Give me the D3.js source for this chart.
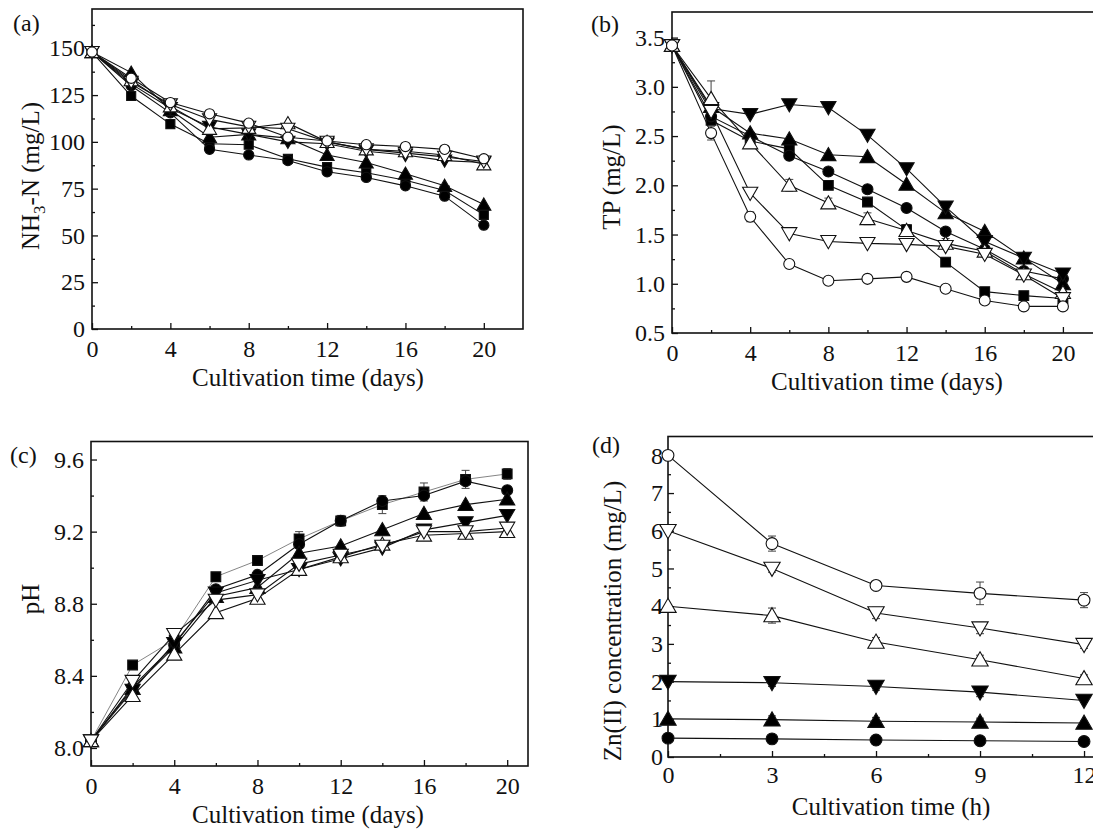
<!DOCTYPE html>
<html lang="en">
<head>
  <meta charset="UTF-8">
  <title>NH3-N, TP, pH and Zn(II)</title>
  <script src="https://cdn.jsdelivr.net/npm/d3@7"></script>
  <style>
    body { margin: 0; background: #fff; }
    text { font-family: "Liberation Serif", "Times New Roman", serif; fill: #111; }
  </style>
</head>
<body>
  <svg width="1093" height="829"></svg>
<script>
  const svg = d3.select("svg");

  // x values
  const days = [0, 2, 4, 6, 8, 10, 12, 14, 16, 18, 20];
  const hours = [0, 3, 6, 9, 12];

  // (a) NH3-N (mg/L)
  const nh3Control = [148, 124.5, 109.5, 99, 98.5, 91, 86.5, 83.5, 79.5, 74, 61];
  const nh3Zn05 = [148, 130, 115.5, 96, 93, 90, 84, 81, 76.5, 71, 55.5];
  const nh3Zn1 = [148, 137, 117, 102.5, 104, 102, 93, 89, 83, 76.5, 66.5];
  const nh3Zn2 = [148, 131, 118, 108, 104, 100, 99, 95, 93, 90, 89];
  const nh3Zn4 = [148, 133, 119, 107, 107.5, 110, 100, 96, 95, 93, 88];
  const nh3Zn6 = [148, 132, 120, 112, 108, 107, 100, 96, 94, 92, 89.5];
  const nh3Zn8 = [148, 134, 121, 115, 110, 102.5, 100.5, 98.5, 97.5, 96, 91];

  // (b) TP (mg/L)
  const tpControl = [3.42, 2.66, 2.45, 2.37, 2.0, 1.83, 1.55, 1.22, 0.92, 0.88, 0.85];
  const tpZn05 = [3.42, 2.7, 2.5, 2.3, 2.14, 1.96, 1.77, 1.53, 1.35, 1.13, 1.05];
  const tpZn1 = [3.42, 2.8, 2.53, 2.47, 2.31, 2.29, 2.01, 1.72, 1.53, 1.26, 1.0];
  const tpZn2 = [3.42, 2.78, 2.72, 2.82, 2.79, 2.51, 2.17, 1.78, 1.43, 1.26, 1.1];
  const tpZn4 = [3.42, 2.88, 2.43, 2.0, 1.82, 1.66, 1.54, 1.41, 1.33, 1.1, 0.91];
  const tpZn6 = [3.42, 2.75, 1.92, 1.51, 1.43, 1.41, 1.4, 1.38, 1.3, 1.09, 0.85];
  const tpZn8 = [3.42, 2.53, 1.68, 1.2, 1.03, 1.05, 1.07, 0.95, 0.83, 0.77, 0.77];
  const tpZn4Err = [0, 0.18, 0.05, 0.06, 0.05, 0.06, 0.06, 0.05, 0.05, 0.04, 0.04];
  const tpZn8Err = [0, 0.07, 0.05, 0.03, 0.03, 0.03, 0.03, 0.03, 0.03, 0.03, 0.03];

  // (c) pH
  const phControl = [8.04, 8.46, 8.6, 8.95, 9.04, 9.16, 9.26, 9.35, 9.42, 9.49, 9.52];
  const phZn05 = [8.04, 8.34, 8.57, 8.88, 8.96, 9.13, 9.26, 9.37, 9.4, 9.48, 9.43];
  const phZn1 = [8.04, 8.33, 8.56, 8.84, 8.89, 9.08, 9.12, 9.21, 9.3, 9.35, 9.38];
  const phZn2 = [8.04, 8.32, 8.58, 8.86, 8.93, 8.99, 9.05, 9.11, 9.21, 9.25, 9.29];
  const phZn4 = [8.04, 8.29, 8.52, 8.75, 8.83, 8.99, 9.06, 9.13, 9.18, 9.19, 9.2];
  const phZn6 = [8.04, 8.37, 8.63, 8.82, 8.85, 9.02, 9.07, 9.12, 9.2, 9.2, 9.22];
  const phControlErr = [0, 0.02, 0.03, 0.02, 0.02, 0.04, 0.03, 0.05, 0.05, 0.05, 0.03];

  // (d) Zn(II) concentration (mg/L)
  const znZn05 = [0.5, 0.48, 0.45, 0.43, 0.41];
  const znZn1 = [1.01, 0.99, 0.95, 0.93, 0.9];
  const znZn2 = [2.0, 1.97, 1.87, 1.72, 1.5];
  const znZn4 = [4.0, 3.75, 3.05, 2.58, 2.08];
  const znZn6 = [6.0, 5.0, 3.82, 3.42, 2.98];
  const znZn8 = [8.0, 5.66, 4.55, 4.34, 4.16];
  const znZn05Err = [0, 0.05, 0.05, 0.05, 0.05];
  const znZn1Err = [0, 0.1, 0.1, 0.1, 0.05];
  const znZn2Err = [0, 0.1, 0.1, 0.12, 0.05];
  const znZn4Err = [0, 0.2, 0.12, 0.12, 0.1];
  const znZn6Err = [0, 0.1, 0.15, 0.15, 0.1];
  const znZn8Err = [0, 0.2, 0.05, 0.3, 0.2];

  // marker styles: 0 control, 0.5, 1, 2, 4, 6, 8 mg/L
  const mk = {
    ctrl: { type: d3.symbolSquare, fill: "#000", rot: 0 },
    z05: { type: d3.symbolCircle, fill: "#000", rot: 0 },
    z1: { type: d3.symbolTriangle, fill: "#000", rot: 0 },
    z2: { type: d3.symbolTriangle, fill: "#000", rot: 180 },
    z4: { type: d3.symbolTriangle, fill: "#fff", rot: 0 },
    z6: { type: d3.symbolTriangle, fill: "#fff", rot: 180 },
    z8: { type: d3.symbolCircle, fill: "#fff", rot: 0 }
  };

  function panel(cfg) {
    const g = svg.append("g");
    const x = d3.scaleLinear().domain(cfg.xDomain).range(cfg.xRange);
    const y = d3.scaleLinear().domain(cfg.yDomain).range(cfg.yRange);
    const bottom = cfg.yRange[0], left = cfg.xRange[0];

    // frame
    g.append("rect")
      .attr("x", left).attr("y", cfg.yRange[1])
      .attr("width", cfg.xRange[1] - left).attr("height", bottom - cfg.yRange[1])
      .attr("fill", "none").attr("stroke", "#111").attr("stroke-width", 1.6);

    // minor ticks
    g.append("g").attr("transform", `translate(0,${bottom})`)
      .call(d3.axisBottom(x).tickValues(cfg.xMinor).tickSize(-3).tickFormat(""));
    g.append("g").attr("transform", `translate(${left},0)`)
      .call(d3.axisLeft(y).tickValues(cfg.yMinor).tickSize(-3).tickFormat(""));

    // major ticks
    g.append("g").attr("transform", `translate(0,${bottom})`)
      .call(d3.axisBottom(x).tickValues(cfg.xTicks).tickSize(-6).tickPadding(cfg.xPad || 11)
        .tickFormat(d3.format("d")));
    g.append("g").attr("transform", `translate(${left},0)`)
      .call(d3.axisLeft(y).tickValues(cfg.yTicks).tickSize(-6).tickPadding(cfg.yPad || 7)
        .tickFormat(d3.format(cfg.yFormat)));

    g.selectAll(".domain").remove();
    g.selectAll(".tick line").attr("stroke", "#111").attr("stroke-width", 1.3);
    g.selectAll(".tick text").attr("font-size", "24px")
      .attr("font-family", "Liberation Serif").attr("fill", "#111");

    const line = d3.line().x((d, i) => x(cfg.xs[i])).y(d => y(d));

    cfg.series.forEach(s => {
      g.append("path").datum(s.values)
        .attr("d", line).attr("fill", "none")
        .attr("stroke", s.lineColor || "#111").attr("stroke-width", s.lineWidth || 1.1);
    });

    cfg.series.forEach(s => {
      if (!s.err) return;
      const eb = g.append("g").attr("stroke", "#444").attr("stroke-width", 1);
      s.values.forEach((v, i) => {
        const e = s.err[i];
        if (!e) return;
        const cx = x(cfg.xs[i]);
        eb.append("line").attr("x1", cx).attr("x2", cx).attr("y1", y(v - e)).attr("y2", y(v + e));
        eb.append("line").attr("x1", cx - 4).attr("x2", cx + 4).attr("y1", y(v - e)).attr("y2", y(v - e));
        eb.append("line").attr("x1", cx - 4).attr("x2", cx + 4).attr("y1", y(v + e)).attr("y2", y(v + e));
      });
    });

    cfg.series.forEach(s => {
      const st = mk[s.key];
      const size = st.type === d3.symbolTriangle ? cfg.markSize * 1.05 : cfg.markSize;
      g.append("g").selectAll("path").data(s.values).join("path")
        .attr("d", d3.symbol().type(st.type).size(size))
        .attr("transform", (d, i) => {
          const dy = st.type === d3.symbolTriangle ? (st.rot ? -1.5 : 1.5) : 0;
          return `translate(${x(cfg.xs[i])},${y(d) + dy}) rotate(${st.rot})`;
        })
        .attr("fill", st.fill).attr("stroke", "#111").attr("stroke-width", 1.1);
    });

    // panel label and axis titles
    g.append("text").attr("x", cfg.label[1]).attr("y", cfg.label[2])
      .attr("font-size", "24px").text(cfg.label[0]);

    g.append("text").attr("x", cfg.xTitlePos[0]).attr("y", cfg.xTitlePos[1])
      .attr("text-anchor", "middle").attr("font-size", "25px").text(cfg.xTitle);

    const yt = g.append("text")
      .attr("transform", `translate(${cfg.yTitlePos[0]},${cfg.yTitlePos[1]}) rotate(-90)`)
      .attr("text-anchor", "middle").attr("dominant-baseline", "central")
      .attr("font-size", "25px");
    cfg.yTitle.forEach(part => {
      const t = yt.append("tspan").text(part.t);
      if (part.sub) t.attr("font-size", "17px").attr("baseline-shift", "sub");
    });
  }

  // (a)
  panel({
    xs: days, xDomain: [0, 22], xRange: [92, 523], yDomain: [0, 171], yRange: [329, 9],
    xTicks: [0, 4, 8, 12, 16, 20], xMinor: [2, 6, 10, 14, 18],
    yTicks: [0, 25, 50, 75, 100, 125, 150], yMinor: [12.5, 37.5, 62.5, 87.5, 112.5, 137.5, 162.5],
    yFormat: "d", markSize: 82,
    label: ["(a)", 13, 31],
    xTitle: "Cultivation time (days)", xTitlePos: [308, 386],
    yTitle: [{ t: "NH" }, { t: "3", sub: true }, { t: "-N (mg/L)" }], yTitlePos: [30, 176],
    series: [
      { key: "ctrl", values: nh3Control }, { key: "z05", values: nh3Zn05 },
      { key: "z1", values: nh3Zn1 }, { key: "z2", values: nh3Zn2 },
      { key: "z4", values: nh3Zn4 }, { key: "z6", values: nh3Zn6 },
      { key: "z8", values: nh3Zn8 }
    ]
  });

  // (b)
  panel({
    xs: days, xDomain: [0, 22], xRange: [672, 1102], yDomain: [0.5, 3.76], yRange: [333, 12],
    xTicks: [0, 4, 8, 12, 16, 20], xMinor: [2, 6, 10, 14, 18],
    yTicks: [0.5, 1.0, 1.5, 2.0, 2.5, 3.0, 3.5], yMinor: [0.75, 1.25, 1.75, 2.25, 2.75, 3.25],
    yFormat: ".1f", markSize: 95,
    label: ["(b)", 591, 32],
    xTitle: "Cultivation time (days)", xTitlePos: [887, 390],
    yTitle: [{ t: "TP (mg/L)" }], yTitlePos: [611, 177],
    series: [
      { key: "ctrl", values: tpControl }, { key: "z05", values: tpZn05 },
      { key: "z1", values: tpZn1 }, { key: "z2", values: tpZn2 },
      { key: "z4", values: tpZn4, err: tpZn4Err }, { key: "z6", values: tpZn6 },
      { key: "z8", values: tpZn8, err: tpZn8Err }
    ]
  });

  // (c)
  panel({
    xs: days, xDomain: [0, 21], xRange: [91, 528], yDomain: [7.9, 9.7], yRange: [766, 441.5],
    xTicks: [0, 4, 8, 12, 16, 20], xMinor: [2, 6, 10, 14, 18],
    yTicks: [8.0, 8.4, 8.8, 9.2, 9.6], yMinor: [8.2, 8.6, 9.0, 9.4],
    yFormat: ".1f", markSize: 95,
    label: ["(c)", 10, 463],
    xTitle: "Cultivation time (days)", xTitlePos: [308, 823],
    yTitle: [{ t: "pH" }], yTitlePos: [30, 599],
    series: [
      { key: "ctrl", values: phControl, err: phControlErr, lineColor: "#666", lineWidth: 0.8 },
      { key: "z05", values: phZn05 }, { key: "z1", values: phZn1 },
      { key: "z2", values: phZn2 }, { key: "z4", values: phZn4 },
      { key: "z6", values: phZn6 }
    ]
  });

  // (d)
  panel({
    xs: hours, xDomain: [0, 13], xRange: [668, 1118.7], yDomain: [0, 8.5], yRange: [757, 436.5],
    xTicks: [0, 3, 6, 9, 12], xMinor: [1.5, 4.5, 7.5, 10.5],
    yTicks: [0, 1, 2, 3, 4, 5, 6, 7, 8], yMinor: [0.5, 1.5, 2.5, 3.5, 4.5, 5.5, 6.5, 7.5],
    yFormat: "d", markSize: 110, xPad: 9, yPad: 5,
    label: ["(d)", 592, 453],
    xTitle: "Cultivation time (h)", xTitlePos: [891, 815],
    yTitle: [{ t: "Zn(II) concentration (mg/L)" }], yTitlePos: [612, 621],
    series: [
      { key: "z05", values: znZn05, err: znZn05Err }, { key: "z1", values: znZn1, err: znZn1Err },
      { key: "z2", values: znZn2, err: znZn2Err }, { key: "z4", values: znZn4, err: znZn4Err },
      { key: "z6", values: znZn6, err: znZn6Err }, { key: "z8", values: znZn8, err: znZn8Err }
    ]
  });
</script>
</body>
</html>
